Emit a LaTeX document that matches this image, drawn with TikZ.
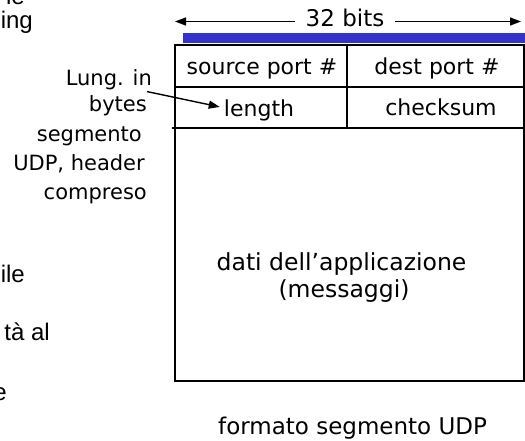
\documentclass[tikz,border=0pt]{standalone}
\usepackage{fontspec}
\setmainfont{DejaVu Sans}
\newfontfamily\arialfont{Liberation Sans}
\usetikzlibrary{arrows.meta,calc}
\definecolor{barblue}{RGB}{51,51,204}
\begin{document}
\begin{tikzpicture}[x=1pt,y=-1pt,
  frame/.style={line width=1.6pt},
  arr/.style={line width=1.4pt,-{Triangle[length=11pt,width=8pt]}},
  cell/.style={inner sep=0pt,anchor=base,font=\fontsize{22}{26}\selectfont},
  big/.style={inner sep=0pt,anchor=base,font=\fontsize{23.5}{28}\selectfont},
  side/.style={inner sep=0pt,anchor=base east,font=\fontsize{21}{25}\selectfont},
  cut/.style={inner sep=0pt,anchor=base east,font=\arialfont\fontsize{24}{28}\selectfont},
  capt/.style={inner sep=0pt,anchor=base west,font=\fontsize{23}{27}\selectfont}]
\useasboundingbox (0,0) rectangle (525,441);

% cut-off text at the left edge
\node[cut] (c1) at (25,5) {le};
\node[cut] (c2) at (33,29) {ing};
\node[cut] (c3) at (25,282) {ile};
\node[cut] (c4) at (50,340) {tà al};
\node[cut] (c5) at (7,400) {e};

% 32 bits arrow
\node[big,inner xsep=11pt,font=\fontsize{23}{28}\selectfont] (bits) at (345,27) {32 bits};
\coordinate (bl) at (175,21.5);
\coordinate (br) at (521,21.5);
\draw[arr] (bits.west |- bl) -- (bl);
\draw[arr] (bits.east |- br) -- (br);

% blue bar
\fill[barblue] (183,33) rectangle (525,43);

% segment frame
\draw[frame] (175,45) rectangle (524,381);
\draw[frame] (175,87) -- (524,87);
\draw[frame] (172,128) -- (524,128);
\draw[frame] (347,45) -- (347,128);

% fields
\node[cell] (src) at (262,75) {source port \#};
\node[cell] (dst) at (437,75) {dest port \#};
\node[cell] (len) at (259,117) {length};
\node[cell] (chk) at (441,116) {checksum};
\node[big] (dati) at (341.5,270) {dati dell’applicazione};
\node[big] (msg) at (344,297) {(messaggi)};

% side label
\node[side] (lab1) at (152,86) {Lung. in};
\node[side] (lab2) at (147,112) {bytes};
\node[side] (lab3) at (142,142) {segmento};
\node[side] (lab4) at (145,171) {UDP, header};
\node[side] (lab5) at (147,200) {compreso};
\draw[arr] ($(lab1.south east)+(-5,1)$) -- ($(len.west)+(-4,-4)$);

% caption
\node[capt] (cap) at (218,434) {formato segmento UDP};
\end{tikzpicture}
\end{document}
